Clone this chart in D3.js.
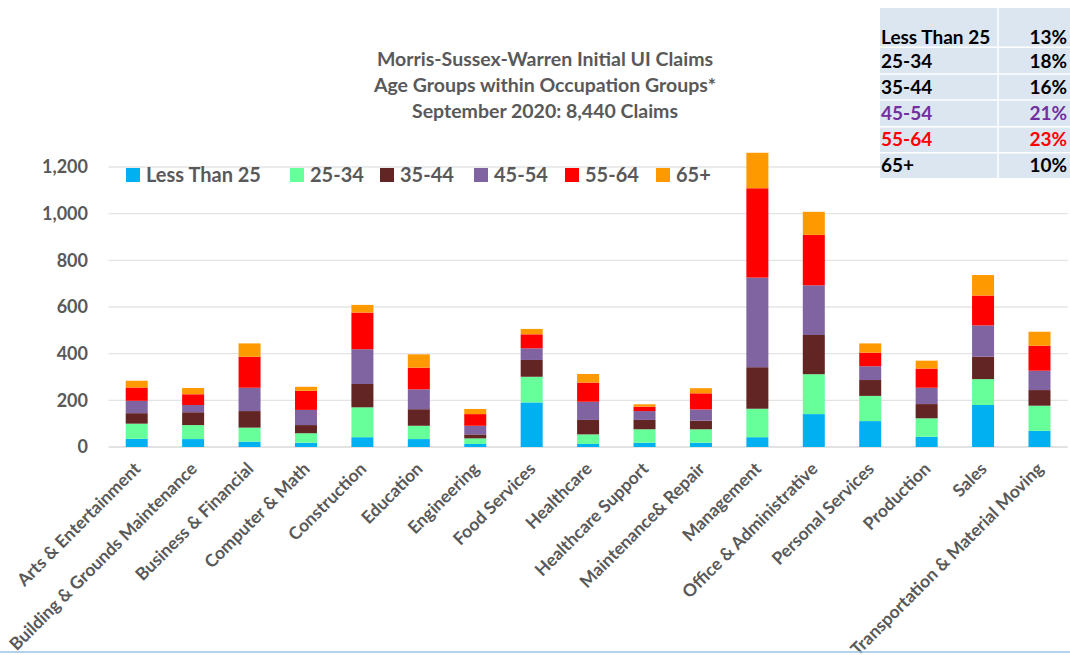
<!DOCTYPE html>
<html><head><meta charset="utf-8">
<script src="https://cdn.jsdelivr.net/npm/d3@7"></script>
<style>body{margin:0;background:#fff;} svg{display:block;font-family:Lato,"Open Sans",sans-serif;}</style>
</head><body>
<svg id="c" width="1070" height="655"></svg>
<script>
const categories = ["Arts & Entertainment","Building & Grounds Maintenance","Business & Financial","Computer & Math","Construction","Education","Engineering","Food Services","Healthcare","Healthcare Support","Maintenance& Repair","Management","Office & Administrative","Personal Services","Production","Sales","Transportation & Material Moving"];
const seriesNames = ["Less Than 25","25-34","35-44","45-54","55-64","65+"];
const lessThan25 = [35,34,23,18,42,34,13,191,13,18,18,42,141,111,44,180,69];
const age25_34   = [65,60,60,41,128,57,24,110,41,58,58,122,171,108,79,111,108];
const age35_44   = [45,55,71,35,100,71,17,72,62,40,37,178,168,68,61,96,67];
const age45_54   = [53,31,100,65,149,85,37,50,78,38,48,384,213,59,70,134,83];
const age55_64   = [57,46,133,82,157,93,50,60,82,19,69,383,216,58,82,128,107];
const age65plus  = [29,27,57,17,33,57,22,23,37,10,22,152,99,40,34,88,60];
const yTicks = [0,200,400,600,800,1000,1200];
const titleLines = ["Morris-Sussex-Warren Initial UI Claims","Age Groups within Occupation Groups*","September 2020: 8,440 Claims"];
const tableLabels = ["Less Than 25","25-34","35-44","45-54","55-64","65+"];
const tableValues = ["13%","18%","16%","21%","23%","10%"];

const colors = ["#00b0f0","#66ff99","#632523","#8064a2","#ff0000","#ff9900"];
const tableColors = ["#000","#000","#000","#7030a0","#ff0000","#000"];
const seriesArrays = [lessThan25,age25_34,age35_44,age45_54,age55_64,age65plus];
const data = categories.map((c,i)=>{const o={cat:c}; seriesNames.forEach((s,j)=>o[s]=seriesArrays[j][i]); return o;});

const svg = d3.select("#c");
const pL=108.5, pR=1067.7, pT=167, pB=447;
const x = d3.scaleBand().domain(categories).range([pL,pR]).paddingInner(0.61).paddingOuter(0.305);
const y = d3.scaleLinear().domain([0,1200]).range([pB,pT]);
const grey="#595959";

// gridlines
svg.append("g").selectAll("line").data(yTicks).join("line")
  .attr("x1",pL).attr("x2",pR).attr("y1",d=>y(d)).attr("y2",d=>y(d))
  .attr("stroke",d=>d===0?"#d9d9d9":"#e4e4e4").attr("stroke-width",1.3);

// y axis labels
const yAxis = d3.axisLeft(y).tickValues(yTicks).tickFormat(d3.format(",")).tickSize(0).tickPadding(0);
const ya = svg.append("g").attr("transform",`translate(88,0)`).call(yAxis);
ya.select(".domain").remove();
ya.selectAll("text").attr("fill",grey).style("font-size","18px").style("font-weight","bold").style("font-family","Lato");

// bars
const stack = d3.stack().keys(seriesNames)(data);
svg.append("g").selectAll("g").data(stack).join("g").attr("fill",(d,i)=>colors[i])
  .selectAll("rect").data(d=>d).join("rect")
  .attr("x",d=>x(d.data.cat)).attr("width",x.bandwidth())
  .attr("y",d=>y(d[1])).attr("height",d=>y(d[0])-y(d[1]));

// x labels
const xAxis = d3.axisBottom(x).tickSize(0).tickPadding(0);
const xa = svg.append("g").attr("transform",`translate(0,${pB})`).call(xAxis);
xa.select(".domain").remove();
xa.selectAll("text").attr("fill",grey).style("font-size","17.5px").style("font-weight","bold").style("font-family","Lato")
  .attr("text-anchor","end").attr("dy",null)
  .attr("transform","translate(5,23) rotate(-45)");

// title
svg.append("g").selectAll("text").data(titleLines).join("text")
  .attr("x",545).attr("y",(d,i)=>66+i*26).attr("text-anchor","middle")
  .attr("fill",grey).style("font-size","19.5px").style("font-weight","bold").text(d=>d);

// legend
const legX=[126,290,380,474,565,656];
const lg = svg.append("g").selectAll("g").data(seriesNames).join("g").attr("transform",(d,i)=>`translate(${legX[i]},168)`);
lg.append("rect").attr("width",14).attr("height",14).attr("fill",(d,i)=>colors[i]);
lg.append("text").attr("x",20).attr("y",14).attr("fill",grey).style("font-size","20px").style("font-weight","bold").text(d=>d);

// table
const tb = svg.append("g");
tb.append("rect").attr("x",880).attr("y",8).attr("width",190).attr("height",170).attr("fill","#dce6f1");
const rowSep=[47.3,74,100,126.7,152.7];
tb.selectAll("line.r").data(rowSep).join("line").attr("x1",880).attr("x2",1070).attr("y1",d=>d).attr("y2",d=>d).attr("stroke","#fff").attr("stroke-width",1.5);
tb.append("line").attr("x1",998).attr("x2",998).attr("y1",8).attr("y2",178).attr("stroke","#fff").attr("stroke-width",1.5);
const rowY=[37,61,87,113,139,165];
tb.selectAll("text.l").data(tableLabels).join("text").attr("x",881).attr("y",(d,i)=>rowY[i]+7)
  .attr("fill",(d,i)=>tableColors[i]).style("font-size","19px").style("font-weight","bold").text(d=>d);
tb.selectAll("text.v").data(tableValues).join("text").attr("x",1067).attr("y",(d,i)=>rowY[i]+7).attr("text-anchor","end")
  .attr("fill",(d,i)=>tableColors[i]).style("font-size","19px").style("font-weight","bold").text(d=>d);

// bottom border
svg.append("line").attr("x1",0).attr("x2",1070).attr("y1",652).attr("y2",652).attr("stroke","#9dc3e6").attr("stroke-width",1.5);
</script>
</body></html>
